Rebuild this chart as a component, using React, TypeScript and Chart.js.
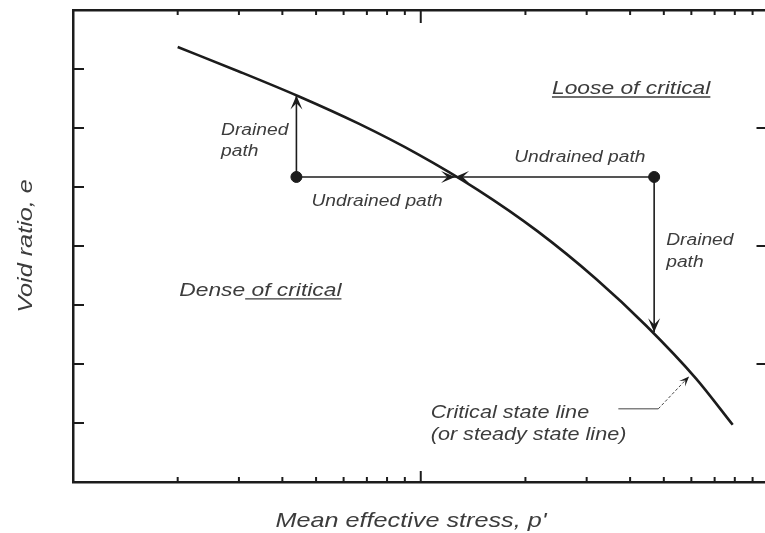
import React, { useEffect, useRef } from "react";
import { Chart, registerables } from "chart.js";

Chart.register(...registerables);

// Critical state line (mean effective stress p', void ratio e)
const cslStress = [2.0, 3.0, 4.45, 6.61, 9.8, 14.55, 21.6, 32.0, 44.5, 61.9, 78.9];
const cslVoid = [7.373, 6.959, 6.539, 6.078, 5.558, 4.956, 4.256, 3.437, 2.649, 1.753, 0.97];

// Initial states (dense and loose of critical)
const sampleStress = [4.39, 46.9];
const sampleVoid = [5.17, 5.17];

// End points of paths on the CSL
const drainedEndVoid = [6.55, 2.54];
const undrainedEndStress = [12.55, 12.55];

// Leader for the CSL label
const leaderStress = [37.0, 48.2, 59.1];
const leaderVoid = [1.24, 1.24, 1.79];

// Tick marks
const xMinorTicks = [2, 3, 4, 5, 6, 7, 8, 9, 20, 30, 40, 50, 60, 70, 80, 90];
const xMajorTicks = [10];
const yLeftTicks = [1, 2, 3, 4, 5, 6, 7];
const yRightTicks = [2, 4, 6];

// Text annotations (data coordinates)
const noteTexts = [
  "Loose of critical",
  "Drained",
  "path",
  "Undrained path",
  "Undrained path",
  "Drained",
  "path",
  "Dense of critical",
  "Critical state line",
  "(or steady state line)",
];
const noteStress = [23.84, 2.666, 2.666, 4.85, 18.56, 50.8, 50.8, 2.021, 10.68, 10.68];
const noteVoid = [6.576, 5.881, 5.525, 4.678, 5.424, 4.017, 3.644, 3.153, 1.085, 0.712];
const noteSize = [19, 16, 16, 16, 16, 16, 16, 19, 18, 18];
const noteUnderlineFrom = [0, -1, -1, -1, -1, -1, -1, 5, -1, -1];

const xTitle = "Mean effective stress, p'";
const yTitle = "Void ratio, e";

const LINE = "#1c1c1c";
const TEXT = "#3c3c3c";
const STRETCH = 1.2;
const FONT = '"Liberation Sans", Arial, sans-serif';

function pts(xs: number[], ys: number[]) {
  return xs.map((x, i) => ({ x, y: ys[i] }));
}

function arrowHead(ctx: CanvasRenderingContext2D, x: number, y: number, ang: number, len: number, hw: number) {
  ctx.save();
  ctx.translate(x, y);
  ctx.rotate(ang);
  ctx.beginPath();
  ctx.moveTo(0, 0);
  ctx.lineTo(-len, -hw);
  ctx.lineTo(-len * 0.55, 0);
  ctx.lineTo(-len, hw);
  ctx.closePath();
  ctx.fillStyle = LINE;
  ctx.fill();
  ctx.restore();
}

function stretchedText(
  ctx: CanvasRenderingContext2D,
  text: string,
  x: number,
  y: number,
  size: number,
  align: "left" | "center",
  rot = 0,
  underlineFrom = -1
) {
  ctx.save();
  ctx.font = `italic ${size}px ${FONT}`;
  ctx.fillStyle = TEXT;
  ctx.translate(x, y);
  ctx.rotate(rot);
  ctx.scale(STRETCH, 1);
  const w = ctx.measureText(text).width;
  const x0 = align === "center" ? -w / 2 : 0;
  ctx.textAlign = "left";
  ctx.textBaseline = "alphabetic";
  ctx.fillText(text, x0, 0);
  if (underlineFrom >= 0) {
    const pre = ctx.measureText(text.slice(0, underlineFrom)).width;
    ctx.strokeStyle = TEXT;
    ctx.lineWidth = 1.3;
    ctx.beginPath();
    ctx.moveTo(x0 + pre, 3);
    ctx.lineTo(x0 + w, 3);
    ctx.stroke();
  }
  ctx.restore();
}

const decorPlugin = {
  id: "decor",
  afterDatasetsDraw(chart: any) {
    const ctx: CanvasRenderingContext2D = chart.ctx;
    const xs = chart.scales.x;
    const ys = chart.scales.y;
    const a = chart.chartArea;
    ctx.save();
    ctx.strokeStyle = LINE;
    ctx.lineWidth = 2;
    const tick = (x1: number, y1: number, x2: number, y2: number) => {
      ctx.beginPath();
      ctx.moveTo(x1, y1);
      ctx.lineTo(x2, y2);
      ctx.stroke();
    };
    xMinorTicks.forEach((v) => {
      const px = xs.getPixelForValue(v);
      tick(px, a.bottom, px, a.bottom - 5);
      tick(px, a.top, px, a.top + 5);
    });
    xMajorTicks.forEach((v) => {
      const px = xs.getPixelForValue(v);
      tick(px, a.bottom, px, a.bottom - 11);
      tick(px, a.top, px, a.top + 13);
    });
    yLeftTicks.forEach((v) => {
      const py = ys.getPixelForValue(v);
      tick(a.left, py, a.left + 11, py);
    });
    yRightTicks.forEach((v) => {
      const py = ys.getPixelForValue(v);
      tick(a.right, py, a.right - 12, py);
    });
    ctx.restore();

    // arrowheads on paths
    [1, 2, 3, 4].forEach((di) => {
      const m = chart.getDatasetMeta(di).data;
      const p0 = m[m.length - 2];
      const p1 = m[m.length - 1];
      arrowHead(ctx, p1.x, p1.y, Math.atan2(p1.y - p0.y, p1.x - p0.x), 14, 6);
    });
    {
      const m = chart.getDatasetMeta(7).data;
      const p0 = m[0];
      const p1 = m[1];
      arrowHead(ctx, p1.x, p1.y, Math.atan2(p1.y - p0.y, p1.x - p0.x), 10, 4);
    }

    // annotations
    noteTexts.forEach((t, i) => {
      stretchedText(
        ctx,
        t,
        xs.getPixelForValue(noteStress[i]),
        ys.getPixelForValue(noteVoid[i]),
        noteSize[i],
        "left",
        0,
        noteUnderlineFrom[i]
      );
    });

    // axis titles
    stretchedText(ctx, xTitle, a.left + 338, a.bottom + 45, 21, "center");
    stretchedText(ctx, yTitle, 32, (a.top + a.bottom) / 2, 21, "center", -Math.PI / 2);
  },
};

export default function App() {
  const ref = useRef<HTMLCanvasElement | null>(null);
  useEffect(() => {
    document.body.style.margin = "0";
    const canvas = ref.current!;
    const zero = (s: any) => {
      if (s.isHorizontal()) s.height = 0;
      else s.width = 0;
    };
    const border = { display: true, width: 2.5, color: LINE };
    const chart = new Chart(canvas, {
      type: "line",
      data: {
        datasets: [
          {
            data: pts(cslStress, cslVoid),
            borderColor: LINE,
            borderWidth: 2.6,
            pointRadius: 0,
            cubicInterpolationMode: "monotone",
          },
          {
            data: [
              { x: sampleStress[0], y: sampleVoid[0] },
              { x: sampleStress[0], y: drainedEndVoid[0] },
            ],
            borderColor: LINE,
            borderWidth: 1.6,
            pointRadius: 0,
          },
          {
            data: [
              { x: sampleStress[0], y: sampleVoid[0] },
              { x: undrainedEndStress[0], y: sampleVoid[0] },
            ],
            borderColor: LINE,
            borderWidth: 1.6,
            pointRadius: 0,
          },
          {
            data: [
              { x: sampleStress[1], y: sampleVoid[1] },
              { x: undrainedEndStress[1], y: sampleVoid[1] },
            ],
            borderColor: LINE,
            borderWidth: 1.6,
            pointRadius: 0,
          },
          {
            data: [
              { x: sampleStress[1], y: sampleVoid[1] },
              { x: sampleStress[1], y: drainedEndVoid[1] },
            ],
            borderColor: LINE,
            borderWidth: 1.6,
            pointRadius: 0,
          },
          {
            data: pts(sampleStress, sampleVoid),
            showLine: false,
            pointRadius: 5.5,
            pointBackgroundColor: LINE,
            pointBorderColor: LINE,
          },
          {
            data: pts(leaderStress.slice(0, 2), leaderVoid.slice(0, 2)),
            borderColor: "#444",
            borderWidth: 1,
            pointRadius: 0,
          },
          {
            data: pts(leaderStress.slice(1), leaderVoid.slice(1)),
            borderColor: "#444",
            borderWidth: 1,
            borderDash: [3, 2],
            pointRadius: 0,
          },
        ],
      },
      options: {
        animation: false,
        responsive: false,
        devicePixelRatio: 1,
        layout: { padding: { left: 73, top: 10, right: 2, bottom: 51 } },
        plugins: { legend: { display: false }, tooltip: { enabled: false } },
        events: [],
        scales: {
          x: {
            type: "logarithmic",
            position: "bottom",
            min: 1,
            max: 100,
            ticks: { display: false },
            grid: { display: false },
            border,
            afterFit: zero,
          },
          xTop: {
            type: "logarithmic",
            position: "top",
            min: 1,
            max: 100,
            ticks: { display: false },
            grid: { display: false },
            border,
            afterFit: zero,
          },
          y: {
            type: "linear",
            position: "left",
            min: 0,
            max: 8,
            ticks: { display: false },
            grid: { display: false },
            border,
            afterFit: zero,
          },
        },
      } as any,
      plugins: [decorPlugin],
    });
    return () => chart.destroy();
  }, []);
  return (
    <div style={{ width: 765, height: 533, overflow: "hidden", position: "relative", background: "#fff" }}>
      <canvas ref={ref} width={775} height={533} style={{ display: "block", width: 775, height: 533 }} />
    </div>
  );
}
